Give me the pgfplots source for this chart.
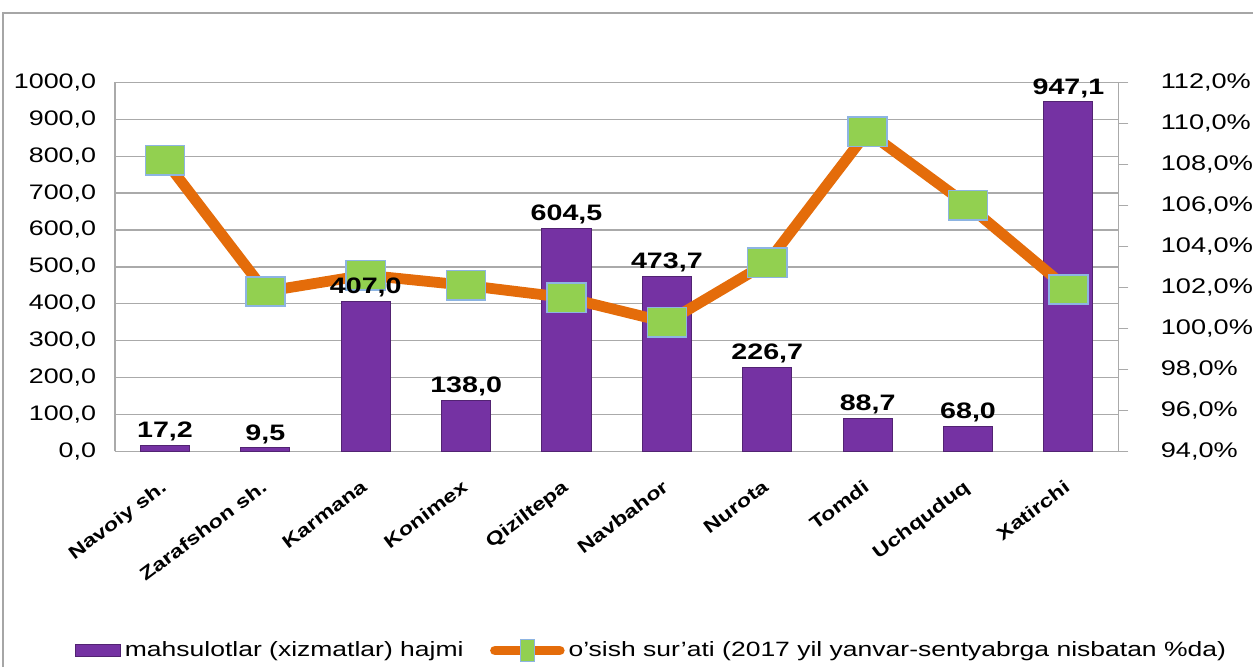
\documentclass[border=0pt]{standalone}
\usepackage{pgfplots}
\pgfplotsset{compat=1.18}
\usepackage{fontspec}
\setmainfont[FakeStretch=1.28]{Liberation Sans}
\definecolor{barpurple}{RGB}{117,50,163}
\definecolor{lineorange}{RGB}{228,108,10}
\definecolor{mkgreen}{RGB}{146,208,80}
\definecolor{mkblue}{RGB}{141,180,226}
\definecolor{gridgray}{RGB}{170,170,170}
\pgfplotstableread{
x y
0 17.2
1 9.5
2 407.0
3 138.0
4 604.5
5 473.7
6 226.7
7 88.7
8 68.0
9 947.1
}\bars
\pgfplotstableread{
x y
0 108.2
1 101.8
2 102.6
3 102.1
4 101.5
5 100.3
6 103.2
7 109.6
8 106.0
9 101.9
}\growth
\begin{document}
\begin{tikzpicture}
\begin{axis}[
 scale only axis, width=511.5pt, height=188pt,
 at={(0,0)}, anchor=south west,
 xmin=-0.5, xmax=9.5, ymin=0, ymax=1000,
 axis x line*=bottom, axis y line*=left,
 axis line style={draw=gridgray, line width=0.8pt, -},
 ytick={0,100,...,1000},
 ymajorgrids, grid style={gridgray, line width=0.7pt},
 major tick length=0pt,
 xtick={0,...,9},
 xticklabels={Navoiy sh., Zarafshon sh., Karmana, Konimex, Qiziltepa, Navbahor, Nurota, Tomdi, Uchquduq, Xatirchi},
 x tick label style={xshift=-2.5pt, yshift=-12.5pt, rotate=37, anchor=north east, font=\bfseries\fontsize{9.3}{11}\selectfont, inner sep=1pt},
 y tick label style={font=\fontsize{10.7}{12}\selectfont, xshift=-6pt},
 yticklabel style={/pgf/number format/fixed, /pgf/number format/fixed zerofill, /pgf/number format/precision=1, /pgf/number format/use comma, /pgf/number format/1000 sep={}, /pgf/number format/assume math mode=true},
]
\addplot[ybar, bar width=25pt, fill=barpurple, draw=barpurple!70!black, line width=0.5pt]
 table[x=x,y=y]{\bars};
\end{axis}
\begin{axis}[
 scale only axis, width=511.5pt, height=188pt,
 at={(0,0)}, anchor=south west,
 xmin=-0.5, xmax=9.5, ymin=94, ymax=112,
 axis x line=none, axis y line*=right,
 axis line style={draw=gridgray, line width=0.8pt, -},
 ytick={94,96,...,112},
 tick align=outside, major tick length=5pt,
 tick style={gridgray, line width=0.8pt},
 yticklabel={\pgfmathprintnumber[fixed,fixed zerofill,precision=1,use comma,assume math mode=true]{\tick}\%},
 y tick label style={font=\fontsize{10.8}{12}\selectfont, xshift=13pt},
 legend style={draw=none, at={(0.5,0)}, anchor=center, xshift=18.25pt, yshift=-101.5pt,
   font=\fontsize{10.55}{12}\selectfont, legend columns=2,
   /tikz/every even column/.append style={column sep=11.5pt}},
 legend cell align=left,
]
\addlegendimage{legend image code/.code={\draw[fill=barpurple, draw=barpurple!70!black] (0pt,-3pt) rectangle (23pt,3pt);}}
\addlegendentry{mahsulotlar (xizmatlar) hajmi}
\addplot[lineorange, line width=5.5pt, mark=square*,
 mark options={solid, fill=mkgreen, draw=mkblue, line width=0.8pt, xscale=1.33, mark size=7.5pt},
 legend image code/.code={\draw[lineorange, line width=5pt, line cap=round] (0pt,0pt) -- (33pt,0pt); \draw[fill=mkgreen, draw=mkblue, line width=0.5pt] (13pt,-5.5pt) rectangle (20pt,5.5pt);}]
 table[x=x,y=y]{\growth};
\addlegendentry{o'sish sur'ati (2017 yil yanvar-sentyabrga nisbatan \%da)}
\end{axis}
\begin{axis}[
 scale only axis, width=511.5pt, height=188pt,
 at={(0,0)}, anchor=south west,
 xmin=-0.5, xmax=9.5, ymin=0, ymax=1000,
 axis lines=none,
]
\addplot[ybar, bar width=25pt, draw=none, fill=none,
 nodes near coords={\pgfmathprintnumber[fixed,fixed zerofill,precision=1,use comma,1000 sep={},assume math mode=true]{\pgfplotspointmeta}},
 nodes near coords style={font=\bfseries\fontsize{11.4}{13}\selectfont, text=black, inner sep=2pt}]
 table[x=x,y=y]{\bars};
\end{axis}
\pgfresetboundingbox
\path (-58.5pt,-104pt) rectangle (568.5pt,230pt);
\draw[gray!70, line width=1pt] (-57pt,-110pt) -- (-57pt,223.5pt) -- (580pt,223.5pt);
\end{tikzpicture}
\end{document}
